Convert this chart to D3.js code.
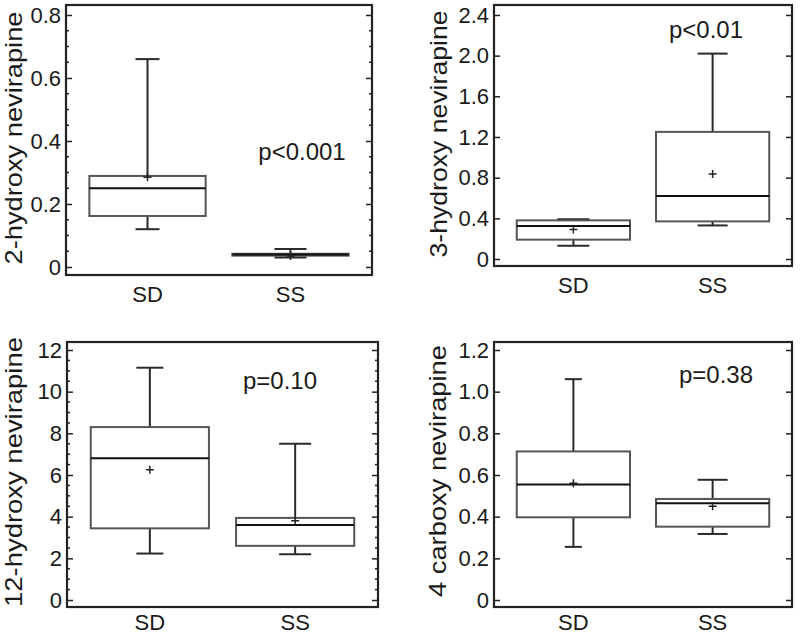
<!DOCTYPE html>
<html><head><meta charset="utf-8">
<script src="https://cdn.jsdelivr.net/npm/d3@7"></script>
<style>
html,body{margin:0;padding:0;background:#fff;}
svg{display:block;}
text{font-family:"Liberation Sans",Arial,sans-serif;fill:#1a1a1a;}
</style></head>
<body><svg id="c" width="800" height="635"></svg>
<script>
// ---- data ----
const groups = ["SD", "SS"];
const yTitles = ["2-hydroxy nevirapine", "3-hydroxy nevirapine", "12-hydroxy nevirapine", "4 carboxy nevirapine"];
const pLabels = ["p<0.001", "p<0.01", "p=0.10", "p=0.38"];
const whiskerLow  = [[0.12, 0.03], [0.13, 0.33], [2.23, 2.2], [0.255, 0.317]];
const q1          = [[0.162, 0.036], [0.19, 0.37], [3.44, 2.6], [0.397, 0.352]];
const medians     = [[0.25, 0.04], [0.325, 0.62], [6.81, 3.6], [0.554, 0.464]];
const q3          = [[0.289, 0.042], [0.38, 1.25], [8.3, 3.94], [0.713, 0.485]];
const whiskerHigh = [[0.66, 0.057], [0.39, 2.02], [11.15, 7.5], [1.06, 0.577]];
const means       = [[0.285, 0.035], [0.29, 0.835], [6.25, 3.8], [0.56, 0.45]];
const tickValues = [[0, 0.2, 0.4, 0.6, 0.8], [0, 0.4, 0.8, 1.2, 1.6, 2.0, 2.4], [0, 2, 4, 6, 8, 10, 12], [0, 0.2, 0.4, 0.6, 0.8, 1.0, 1.2]];
const tickLabels = [["0", "0.2", "0.4", "0.6", "0.8"], ["0", "0.4", "0.8", "1.2", "1.6", "2.0", "2.4"], ["0", "2", "4", "6", "8", "10", "12"], ["0", "0.2", "0.4", "0.6", "0.8", "1.0", "1.2"]];
const minorSteps = [0.05, null, 0.5, null];
const yDomains = [[-0.0254, 0.8317], [-0.069, 2.498], [-0.336, 12.384], [-0.0336, 1.2384]];

// ---- layout ----
const frames = [
  {x0: 66, x1: 372, y0: 5, y1: 275, titleX: 22, titleY: 138, titleLen: 253, pX: 302, pY: 160, xlabY: 302},
  {x0: 494, x1: 792, y0: 5, y1: 266, titleX: 447, titleY: 134, titleLen: 247, pX: 706, pY: 38, xlabY: 293},
  {x0: 67, x1: 378, y0: 342, y1: 607, titleX: 22, titleY: 472, titleLen: 270, pX: 280, pY: 389, xlabY: 630},
  {x0: 494, x1: 792, y0: 342, y1: 607, titleX: 446, titleY: 471, titleLen: 252, pX: 716, pY: 383, xlabY: 630}
];
const capW = [[24, 32], [32, 30], [27, 32], [17, 30]];

const svg = d3.select("#c");
const stroke = "#222";

frames.forEach((f, i) => {
  const g = svg.append("g");
  const x = d3.scalePoint().domain(groups).range([f.x0, f.x1]).padding(0.57);
  const y = d3.scaleLinear().domain(yDomains[i]).range([f.y1, f.y0]);
  const boxW = (f.x1 - f.x0) * 0.38;

  // minor ticks
  if (minorSteps[i]) {
    const st = minorSteps[i];
    const maxV = tickValues[i][tickValues[i].length - 1];
    const major = tickValues[i][1];
    const minors = d3.range(0, maxV + st / 2, st).filter(v => Math.abs(v / major - Math.round(v / major)) > 1e-6);
    g.selectAll(".mnl").data(minors).join("line")
      .attr("x1", f.x0).attr("x2", f.x0 + 3).attr("y1", d => y(d)).attr("y2", d => y(d))
      .attr("stroke", stroke).attr("stroke-width", 1.5);
    g.selectAll(".mnr").data(minors).join("line")
      .attr("x1", f.x1).attr("x2", f.x1 - 3).attr("y1", d => y(d)).attr("y2", d => y(d))
      .attr("stroke", stroke).attr("stroke-width", 1.5);
  }
  // left axis (inward major ticks)
  const axL = d3.axisLeft(y).tickValues(tickValues[i]).tickSizeInner(-6).tickSizeOuter(0).tickPadding(5)
    .tickFormat((d, k) => tickLabels[i][k]);
  const gl = g.append("g").attr("transform", `translate(${f.x0},0)`).call(axL);
  gl.select(".domain").remove();
  gl.selectAll(".tick line").attr("stroke", stroke).attr("stroke-width", 1.5);
  gl.selectAll(".tick text").attr("font-size", 22).attr("fill", "#1a1a1a")
    .attr("font-family", "Liberation Sans, Arial, sans-serif");
  const axR = d3.axisRight(y).tickValues(tickValues[i]).tickSizeInner(-6).tickSizeOuter(0).tickFormat("");
  const gr = g.append("g").attr("transform", `translate(${f.x1},0)`).call(axR);
  gr.select(".domain").remove();
  gr.selectAll(".tick line").attr("stroke", stroke).attr("stroke-width", 1.5);

  // frame
  g.append("rect").attr("x", f.x0).attr("y", f.y0).attr("width", f.x1 - f.x0).attr("height", f.y1 - f.y0)
    .attr("fill", "none").attr("stroke", stroke).attr("stroke-width", 2.2);

  // x labels
  g.selectAll(".xl").data(groups).join("text")
    .attr("x", d => x(d)).attr("y", f.xlabY).attr("text-anchor", "middle")
    .attr("font-size", 22).text(d => d);

  // y title
  g.append("text").attr("transform", `translate(${f.titleX},${f.titleY}) rotate(-90)`)
    .attr("text-anchor", "middle").attr("font-size", 24)
    .attr("textLength", f.titleLen).attr("lengthAdjust", "spacingAndGlyphs").text(yTitles[i]);

  // p label
  g.append("text").attr("x", f.pX).attr("y", f.pY).attr("text-anchor", "middle")
    .attr("font-size", 24).text(pLabels[i]);

  // boxes
  groups.forEach((grp, j) => {
    const cx = x(grp);
    const bg = g.append("g").attr("stroke", "#2a2a2a").attr("fill", "none");
    bg.append("line").attr("x1", cx).attr("x2", cx).attr("y1", y(q3[i][j])).attr("y2", y(whiskerHigh[i][j])).attr("stroke-width", 2);
    bg.append("line").attr("x1", cx).attr("x2", cx).attr("y1", y(q1[i][j])).attr("y2", y(whiskerLow[i][j])).attr("stroke-width", 2);
    bg.append("line").attr("x1", cx - capW[i][j] / 2).attr("x2", cx + capW[i][j] / 2)
      .attr("y1", y(whiskerHigh[i][j])).attr("y2", y(whiskerHigh[i][j])).attr("stroke-width", 2);
    bg.append("line").attr("x1", cx - capW[i][j] / 2).attr("x2", cx + capW[i][j] / 2)
      .attr("y1", y(whiskerLow[i][j])).attr("y2", y(whiskerLow[i][j])).attr("stroke-width", 2);
    bg.append("rect").attr("x", cx - boxW / 2).attr("width", boxW)
      .attr("y", y(q3[i][j])).attr("height", Math.max(0.5, y(q1[i][j]) - y(q3[i][j])))
      .attr("stroke", "#555").attr("stroke-width", 2);
    bg.append("line").attr("x1", cx - boxW / 2).attr("x2", cx + boxW / 2)
      .attr("y1", y(medians[i][j])).attr("y2", y(medians[i][j])).attr("stroke", "#111").attr("stroke-width", 2);
    const my = y(means[i][j]);
    bg.append("path").attr("d", `M${cx - 4},${my}H${cx + 4}M${cx},${my - 4}V${my + 4}`)
      .attr("stroke", "#222").attr("stroke-width", 1.5);
  });
});
</script></body></html>
